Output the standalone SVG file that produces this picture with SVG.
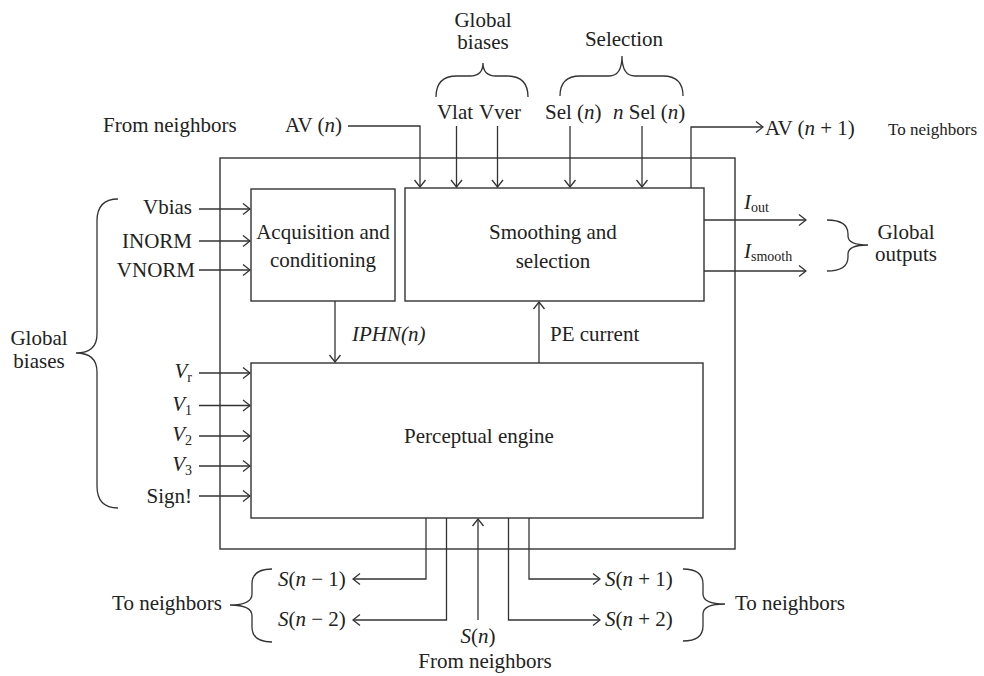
<svg xmlns="http://www.w3.org/2000/svg" width="984" height="676" viewBox="0 0 984 676">
<style>
  .box { fill: none; stroke: #333; stroke-width: 1.4; }
  .ln { fill: none; stroke: #333; stroke-width: 1.3; }
  .arr { fill: none; stroke: #333; stroke-width: 1.3; marker-end: url(#ah); }
  .br { fill: none; stroke: #333; stroke-width: 1.3; }
  text { font-family: "Liberation Serif", "Times New Roman", serif; font-size: 21px; fill: #222; }
  .it { font-style: italic; }
  .sub { font-size: 14px; font-style: normal; }
  .m { text-anchor: middle; }
  .e { text-anchor: end; }
</style>
<defs>
  <marker id="ah" viewBox="-9 -7 10 14" refX="0" refY="0" markerWidth="10" markerHeight="14" markerUnits="userSpaceOnUse" orient="auto">
    <path d="M-7,-5.5 L0,0 L-7,5.5" fill="none" stroke="#333" stroke-width="1.3"/>
  </marker>
</defs>
<rect width="984" height="676" fill="#fff"/>

<g id="outer-block">
  <rect class="box" x="220" y="158" width="515" height="391"/>
</g>
<g id="acquisition">
  <rect class="box" x="251" y="189" width="144" height="112"/>
  <text class="m" x="323" y="239">Acquisition and</text>
  <text class="m" x="323" y="267">conditioning</text>
</g>
<g id="smoothing">
  <rect class="box" x="405" y="188" width="299" height="113"/>
  <text class="m" x="553" y="239">Smoothing and</text>
  <text class="m" x="553" y="268">selection</text>
</g>
<g id="perceptual">
  <rect class="box" x="251" y="363" width="452" height="155"/>
  <text class="m" x="479" y="443">Perceptual engine</text>
</g>

<g id="connectors">
  <!-- left inputs -->
  <path class="arr" d="M199,209 H250"/>
  <path class="arr" d="M199,241 H250"/>
  <path class="arr" d="M199,270 H250"/>
  <path class="arr" d="M199,373 H250"/>
  <path class="arr" d="M199,405.5 H250"/>
  <path class="arr" d="M199,436 H250"/>
  <path class="arr" d="M199,466 H250"/>
  <path class="arr" d="M199,496 H250"/>
  <!-- top inputs -->
  <path class="arr" d="M348,126 H420 V187"/>
  <path class="arr" d="M456.5,126 V187"/>
  <path class="arr" d="M497.5,126 V187"/>
  <path class="arr" d="M570,126 V187"/>
  <path class="arr" d="M642,126 V187"/>
  <!-- AV(n+1) out -->
  <path class="arr" d="M691,188 V127 H763"/>
  <!-- internal -->
  <path class="arr" d="M335,301 V362"/>
  <path class="arr" d="M539,363 V302"/>
  <!-- outputs -->
  <path class="arr" d="M704,220 H806"/>
  <path class="arr" d="M704,271 H806"/>
  <!-- bottom -->
  <path class="arr" d="M426,518 V579 H353"/>
  <path class="arr" d="M446.5,518 V620 H353"/>
  <path class="arr" d="M478,620 V519"/>
  <path class="arr" d="M529,518 V579 H600"/>
  <path class="arr" d="M508.5,518 V620 H600"/>
</g>

<g id="braces">
  <path class="br" d="M118,199 Q97,199 97,221 L97,334 Q97,353 76,353 Q97,353 97,372 L97,486 Q97,508 118,508"/>
  <path class="br" d="M436,97 Q436,76 457,76 L470,76 Q483,76 483,63 Q483,76 496,76 L507,76 Q528,76 528,97"/>
  <path class="br" d="M560,96 Q560,76 580,76 L609,76 Q622,76 622,56 Q622,76 635,76 L663,76 Q683,76 683,96"/>
  <path class="br" d="M827,220 Q848,220 848,234 L848,236 Q848,245 868,245 Q848,245 848,254 L848,257 Q848,271 827,271"/>
  <path class="br" d="M272,569 Q252,569 252,584 L252,594 Q252,605 230,605 Q252,605 252,616 L252,627 Q252,642 272,642"/>
  <path class="br" d="M683,569 Q703,569 703,584 L703,594 Q703,604 725,604 Q703,604 703,614 L703,626 Q703,641 683,641"/>
</g>

<g id="labels">
  <text class="m" x="483" y="27">Global</text>
  <text class="m" x="483" y="49">biases</text>
  <text class="m" x="624" y="46">Selection</text>
  <text x="103" y="132">From neighbors</text>
  <text class="e" x="342" y="132">AV (<tspan class="it">n</tspan>)</text>
  <text class="m" x="455" y="119">Vlat</text>
  <text class="m" x="500" y="119">Vver</text>
  <text x="545" y="119">Sel (<tspan class="it">n</tspan>)</text>
  <text x="613" y="119"><tspan class="it">n</tspan> Sel (<tspan class="it">n</tspan>)</text>
  <text x="765" y="135">AV (<tspan class="it">n</tspan> + 1)</text>
  <text x="888" y="135" style="font-size:17px">To neighbors</text>

  <text class="e" x="192" y="214">Vbias</text>
  <text class="e" x="192" y="248">INORM</text>
  <text class="e" x="195" y="277">VNORM</text>
  <text class="e" x="192" y="378"><tspan class="it">V</tspan><tspan class="sub it" dy="4">r</tspan></text>
  <text class="e" x="192" y="411"><tspan class="it">V</tspan><tspan class="sub" dy="4">1</tspan></text>
  <text class="e" x="192" y="441"><tspan class="it">V</tspan><tspan class="sub" dy="4">2</tspan></text>
  <text class="e" x="192" y="471"><tspan class="it">V</tspan><tspan class="sub" dy="4">3</tspan></text>
  <text class="e" x="192" y="503">Sign!</text>
  <text class="m" x="39" y="345">Global</text>
  <text class="m" x="39" y="368">biases</text>

  <text class="it" x="352" y="341">IPHN(n)</text>
  <text x="550" y="341">PE current</text>

  <text x="744" y="209"><tspan class="it">I</tspan><tspan class="sub" dy="3">out</tspan></text>
  <text x="744" y="258"><tspan class="it">I</tspan><tspan class="sub" dy="3">smooth</tspan></text>
  <text class="m" x="906" y="239">Global</text>
  <text class="m" x="906" y="261">outputs</text>

  <text x="278" y="586"><tspan class="it">S</tspan>(<tspan class="it">n</tspan> − 1)</text>
  <text x="278" y="626"><tspan class="it">S</tspan>(<tspan class="it">n</tspan> − 2)</text>
  <text x="605" y="586"><tspan class="it">S</tspan>(<tspan class="it">n</tspan> + 1)</text>
  <text x="605" y="626"><tspan class="it">S</tspan>(<tspan class="it">n</tspan> + 2)</text>
  <text class="m" x="478" y="643"><tspan class="it">S</tspan>(<tspan class="it">n</tspan>)</text>
  <text class="m" x="485" y="668">From neighbors</text>
  <text class="e" x="222" y="610">To neighbors</text>
  <text x="735" y="610">To neighbors</text>
</g>
</svg>
